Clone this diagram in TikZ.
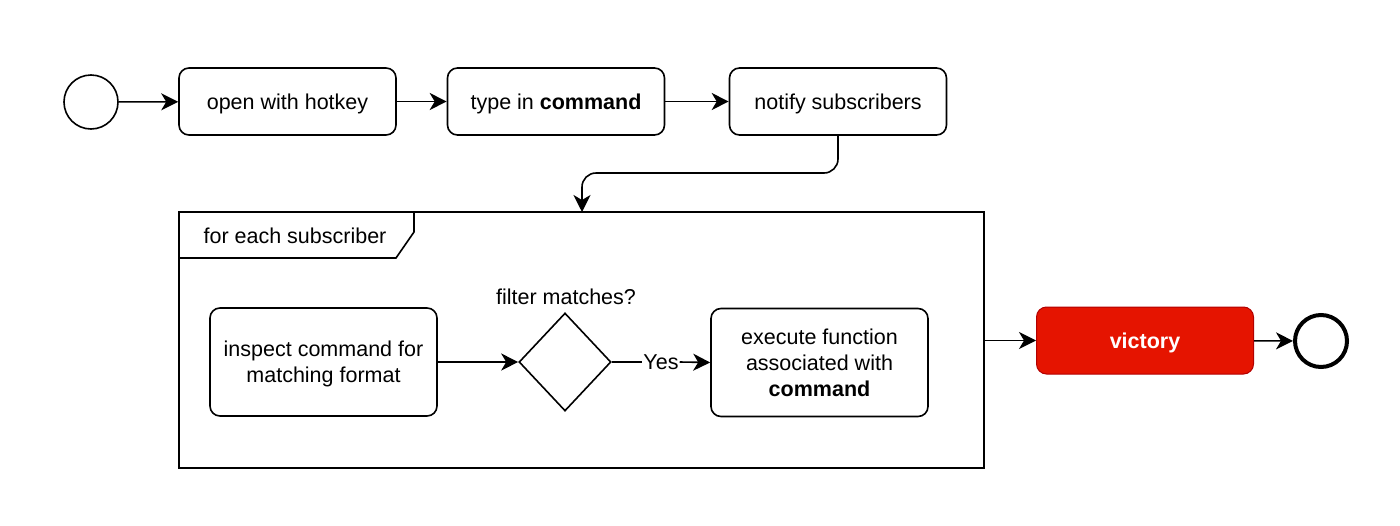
\documentclass[tikz,border=0pt]{standalone}
\usepackage{fontspec}
\setmainfont{Liberation Sans}
\usetikzlibrary{arrows.meta,shapes.geometric}
\begin{document}
\begin{tikzpicture}[x=1pt,y=-1pt,
  every node/.style={font=\fontsize{21.5}{26}\selectfont},
  act/.style={draw, line width=1.6pt, rounded corners=10pt, minimum width=217pt, minimum height=67pt, align=center, inner sep=0pt, text depth=0pt},
  bigact/.style={act, minimum width=227pt, minimum height=108pt},
  arr/.style={line width=1.6pt, -{Stealth[length=17pt,width=17pt,inset=5pt]}},
  circ/.style={draw, circle, minimum size=54pt, inner sep=0pt}
]
\useasboundingbox (0,0) rectangle (1400,525);
\node[circ, line width=1.6pt] (start) at (91,102) {};
\node[act] (open) at (287.5,101.5) {open with hotkey};
\node[act] (type) at (556,101.5) {type in \textbf{command}};
\node[act] (notify) at (838,101.5) {notify subscribers};
% frame
\node[draw, line width=1.6pt, minimum width=805pt, minimum height=256pt, inner sep=0pt] (frame) at (581.5,340) {};
\draw[line width=1.6pt] (179,258) -- (396,258) -- (414,232) -- (414,212);
\node (flabel) at (295,236) {for each subscriber};
\coordinate (ftop) at (582,212);
\draw[arr, rounded corners=14pt] (notify.south) -- (838,173) -- (582,173) -- (ftop);
\node[bigact] (inspect) at (323.5,362) {inspect command for\\matching format};
\node[draw, diamond, line width=1.6pt, minimum width=92pt, minimum height=98pt, inner sep=0pt, aspect=0.94] (dec) at (565,362) {};
\node (dlabel) at (566,297) {filter matches?};
\node[bigact, minimum width=217pt, text depth=] (exec) at (819.5,362.5) {execute function\\associated with\\\textbf{command}};
\draw[line width=1.6pt] (dec.east) -- (643,362);
\node[fill=white, inner sep=1pt] (yesl) at (661,362) {Yes};
\draw[arr] (yesl.east) -- (exec.west);
\draw[arr] (inspect.east) -- (dec.west);
\node[act, fill={rgb,255:red,229;green,20;blue,0}, draw={rgb,255:red,178;green,0;blue,0}, line width=1pt, text=white, font=\fontsize{21.5}{26}\selectfont\bfseries] (victory) at (1145,340.5) {victory};
\node[circ, line width=4pt, minimum size=52pt] (end) at (1321,341) {};
\draw[arr] (start) -- (open);
\draw[arr] (open) -- (type);
\draw[arr] (type) -- (notify);
\draw[arr] (frame.east |- victory.west) -- (victory.west);
\draw[arr] (victory) -- (end);
\end{tikzpicture}
\end{document}
